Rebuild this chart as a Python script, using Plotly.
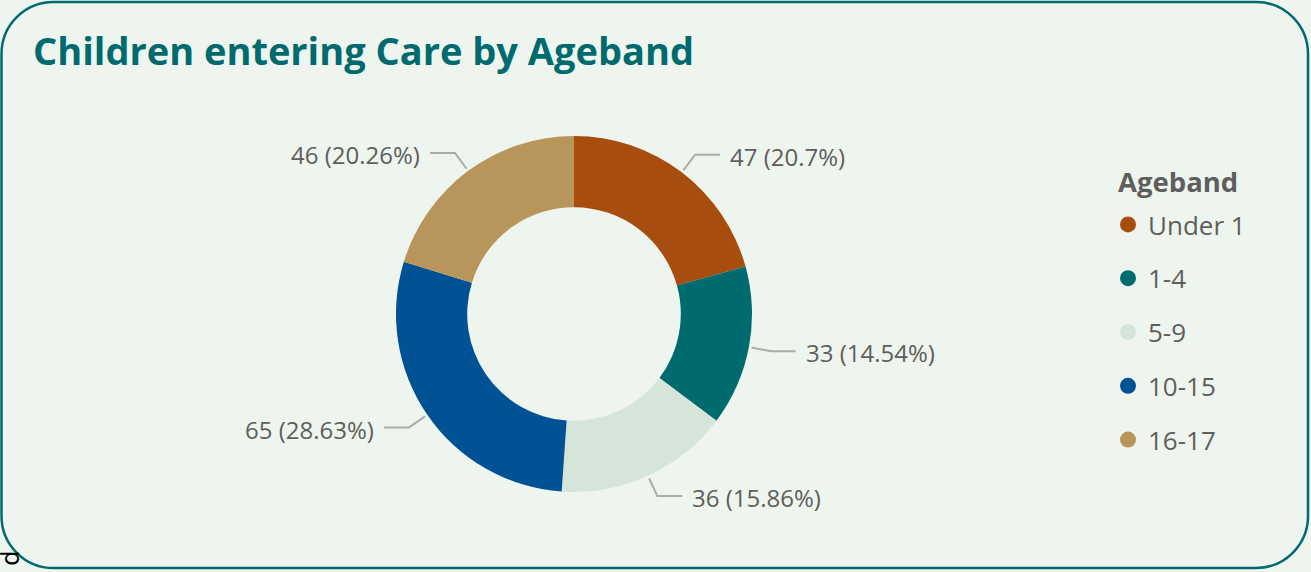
import math
import plotly.graph_objects as go

# ---- data ----
agebands = ["Under 1", "1-4", "5-9", "10-15", "16-17"]
counts = [47, 33, 36, 65, 46]
colors = ["#A84D10", "#006B6E", "#D6E5DA", "#005294", "#B8955A"]
legend_title = "Ageband"
chart_title = "Children entering Care by Ageband"

# ---- layout constants (pixels) ----
W, H = 1311, 572
CX, CY, R = 574, 314, 178          # donut centre / outer radius in px
BG = "#EEF5EF"
TEAL = "#006A6E"
GREY_TXT = "#605E5C"
FONT = "Open Sans"

total = sum(counts)

def fmt(v):
    pct = f"{100 * v / total:.2f}".rstrip("0").rstrip(".")
    return f"{v} ({pct}%)"

fig = go.Figure()

# donut
fig.add_trace(go.Pie(
    labels=agebands, values=counts, hole=0.6, sort=False,
    direction="clockwise", rotation=0,
    marker=dict(colors=colors, line=dict(width=0)),
    textinfo="none", showlegend=False,
    domain=dict(x=[(CX - R) / W, (CX + R) / W],
                y=[(H - CY - R) / H, (H - CY + R) / H]),
))

# leader lines + labels, in radius units on hidden axes
lx, ly, anns = [], [], []
cum = 0
for lab, v in zip(agebands, counts):
    th = 2 * math.pi * (cum + v / 2) / total
    cum += v
    s, c = math.sin(th), math.cos(th)
    side = 1 if s >= 0 else -1
    x1, y1 = 1.015 * s, 1.015 * c
    x2, y2 = 1.125 * s, 1.125 * c
    x3 = x2 + side * 0.14
    lx += [x1, x2, x3, None]
    ly += [y1, y2, y2, None]
    anns.append(dict(
        x=x3 + side * 0.045, y=y2 - 0.01, xref="x", yref="y", text=fmt(v),
        showarrow=False, xanchor="left" if side > 0 else "right",
        yanchor="middle", font=dict(family=FONT, size=24, color=GREY_TXT)))

fig.add_trace(go.Scatter(x=lx, y=ly, mode="lines",
                         line=dict(color="#ABABAB", width=2),
                         hoverinfo="skip", showlegend=False))

# legend entries (circles)
for i, (lab, col) in enumerate(zip(agebands, colors)):
    fig.add_trace(go.Scatter(x=[None], y=[None], mode="markers", name=lab,
                             legendgroup=lab,
                             marker=dict(symbol="circle", size=20, color=col)))

# legend title
anns.append(dict(x=1116 / W, y=1 - 181 / H, xref="paper", yref="paper",
                 text=f"<b>{legend_title}</b>", showarrow=False,
                 xanchor="left", yanchor="middle",
                 font=dict(family=FONT, size=27.5, color=GREY_TXT)))

# stray glyph at bottom-left
anns.append(dict(x=-3 / W, y=1 - 567 / H, xref="paper", yref="paper",
                 text="p", textangle=90, showarrow=False, xanchor="left",
                 font=dict(family="DejaVu Sans", size=24, color="#000000")))

# rounded border
def rrect(x0p, y0p, x1p, y1p, rp):
    x0, x1 = x0p / W, x1p / W
    yt, yb = 1 - y0p / H, 1 - y1p / H
    rx, ry = rp / W, rp / H
    k = 0.5523
    return (f"M {x0+rx},{yt} L {x1-rx},{yt} "
            f"C {x1-rx+k*rx},{yt} {x1},{yt-ry+k*ry} {x1},{yt-ry} "
            f"L {x1},{yb+ry} "
            f"C {x1},{yb+ry-k*ry} {x1-rx+k*rx},{yb} {x1-rx},{yb} "
            f"L {x0+rx},{yb} "
            f"C {x0+rx-k*rx},{yb} {x0},{yb+ry-k*ry} {x0},{yb+ry} "
            f"L {x0},{yt-ry} "
            f"C {x0},{yt-ry+k*ry} {x0+rx-k*rx},{yt} {x0+rx},{yt} Z")

fig.add_shape(type="path", path=rrect(1.5, 2, 1308, 568, 52),
              xref="paper", yref="paper",
              line=dict(color=TEAL, width=2.5), layer="above")

fig.update_layout(
    width=W, height=H,
    margin=dict(l=0, r=0, t=0, b=0),
    paper_bgcolor=BG, plot_bgcolor="rgba(0,0,0,0)",
    title=dict(text=f"<b>{chart_title}</b>",
               x=33 / W, xanchor="left", xref="paper",
               y=1 - 52 / H, yanchor="middle", yref="paper",
               font=dict(family=FONT, size=38, color=TEAL)),
    xaxis=dict(visible=False, range=[-CX / R, (W - CX) / R],
               domain=[0, 1], fixedrange=True),
    yaxis=dict(visible=False, range=[-(H - CY) / R, CY / R],
               domain=[0, 1], fixedrange=True),
    legend=dict(x=1108 / W, y=1 - 201 / H, xanchor="left", yanchor="top",
                bgcolor="rgba(0,0,0,0)", tracegroupgap=17,
                font=dict(family=FONT, size=26, color=GREY_TXT),
                itemwidth=30),
    annotations=anns,
)

fig.write_html("out.html", config={"displayModeBar": False},
               post_script="document.body.style.margin='0px';"
                           "document.body.style.background='%s';" % BG)
